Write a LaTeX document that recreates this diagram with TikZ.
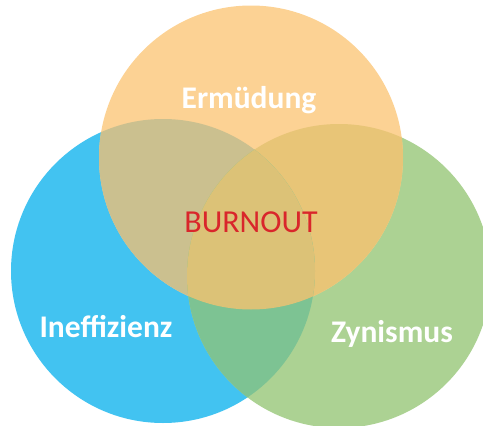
\documentclass[tikz,border=0pt]{standalone}
\usepackage{fontspec}
\setmainfont{Carlito}
\definecolor{cO}{HTML}{FCD294}
\definecolor{cB}{HTML}{42C3F1}
\definecolor{cG}{HTML}{ACD293}
\definecolor{cBO}{HTML}{CBC08F}
\definecolor{cOG}{HTML}{E8C577}
\definecolor{cBG}{HTML}{7DC393}
\definecolor{cBOG}{HTML}{DCC277}
\definecolor{cRed}{HTML}{D9262B}
\tikzset{
  lbl/.style={text=white, font=\bfseries\fontsize{31.5}{34}\selectfont, anchor=base, inner sep=0pt},
  core/.style={text=cRed, font=\fontsize{32}{36}\selectfont, anchor=base, inner sep=0pt}
}
\begin{document}
\begin{tikzpicture}[x=1pt,y=-1pt]
\useasboundingbox (0,0) rectangle (483,426);
\def\Bc{(163,271) circle[radius=152]}
\def\Gc{(339,276) circle[radius=152]}
\def\Oc{(251,157.5) circle[radius=152]}
\begin{scope}
\clip (0,0) rectangle (483,426);
\fill[cB] \Bc;
\fill[cG] \Gc;
\fill[cO] \Oc;
\begin{scope}\clip \Bc; \fill[cBO] \Oc; \end{scope}
\begin{scope}\clip \Oc; \fill[cOG] \Gc; \end{scope}
\begin{scope}\clip \Bc; \fill[cBG] \Gc; \end{scope}
\begin{scope}\clip \Bc; \clip \Oc; \fill[cBOG] \Gc; \end{scope}
\end{scope}
\node[lbl] (erm) at (249,108) {Ermüdung};
\node[core] (burn) at (251,232.5) {BURNOUT};
\node[lbl] (ineff) at (106,337) {Ineffizienz};
\node[lbl] (zyn) at (392,342) {Zynismus};
\end{tikzpicture}
\end{document}
